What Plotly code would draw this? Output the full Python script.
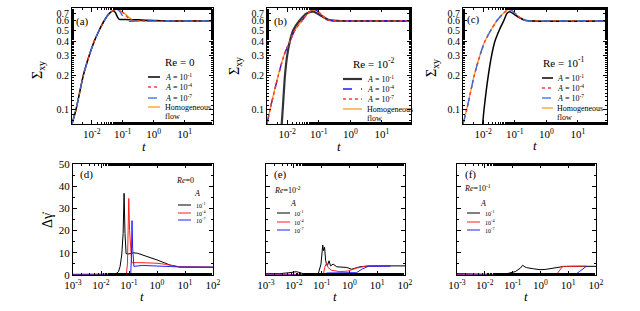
import plotly.graph_objects as go

# ---------------- data ----------------
# Panel (a)  Re = 0
a_black_t = [0.00229, 0.00308, 0.00532, 0.0083, 0.0121, 0.0175, 0.0249, 0.0369, 0.0498, 0.058, 0.068, 0.078, 0.12, 0.3, 1.0, 3.0, 80]
a_black_s = [0.075, 0.1, 0.2, 0.3, 0.4, 0.5, 0.6, 0.7, 0.738, 0.71, 0.65, 0.62, 0.618, 0.615, 0.605, 0.6, 0.6]
a_red_t = [0.00229, 0.00308, 0.00532, 0.0083, 0.0121, 0.0175, 0.0249, 0.0369, 0.05, 0.068, 0.09, 0.12, 0.16, 0.22, 0.4, 80]
a_red_s = [0.075, 0.1, 0.2, 0.3, 0.4, 0.5, 0.6, 0.7, 0.74, 0.765, 0.735, 0.68, 0.63, 0.605, 0.6, 0.6]
a_blue_t = [0.00229, 0.00308, 0.00532, 0.0083, 0.0121, 0.0175, 0.0249, 0.0369, 0.05, 0.064, 0.08, 0.1, 0.119, 0.16, 0.25, 1.0, 80]
a_blue_s = [0.075, 0.1, 0.2, 0.3, 0.4, 0.5, 0.6, 0.7, 0.74, 0.76, 0.73, 0.66, 0.61, 0.595, 0.598, 0.6, 0.6]
a_orange_t = [0.00229, 0.00308, 0.00532, 0.0083, 0.0121, 0.0175, 0.0249, 0.0369, 0.05, 0.068, 0.082, 0.12, 0.16, 0.196, 0.3, 80]
a_orange_s = [0.075, 0.1, 0.2, 0.3, 0.4, 0.5, 0.6, 0.7, 0.74, 0.765, 0.74, 0.69, 0.645, 0.62, 0.603, 0.6]

# Panel (b)  Re = 1e-2
b_black_t = [0.0067, 0.0072, 0.0085, 0.010, 0.0122, 0.0156, 0.024, 0.0413, 0.067, 0.138, 0.2, 0.37, 1.0, 80]
b_black_s = [0.075, 0.1, 0.2, 0.3, 0.4, 0.5, 0.6, 0.7, 0.724, 0.65, 0.615, 0.603, 0.6, 0.6]
b_thin_t = [0.00229, 0.00285, 0.00522, 0.0079, 0.0122, 0.0176, 0.0287, 0.0445, 0.057, 0.0703, 0.09, 0.123, 0.185, 0.29, 1.0, 80]
b_thin_s = [0.075, 0.1, 0.2, 0.3, 0.4, 0.5, 0.6, 0.7, 0.74, 0.757, 0.735, 0.677, 0.615, 0.602, 0.6, 0.6]

# Panel (c)  Re = 1e-1
c_black_t = [0.0096, 0.0106, 0.0145, 0.0185, 0.0236, 0.0324, 0.0443, 0.057, 0.070, 0.128, 0.21, 0.4, 80]
c_black_s = [0.075, 0.1, 0.2, 0.3, 0.4, 0.5, 0.6, 0.7, 0.724, 0.65, 0.61, 0.6, 0.6]
c_thin_t = [0.00229, 0.0030, 0.0052, 0.0079, 0.0114, 0.0176, 0.0267, 0.0432, 0.055, 0.067, 0.085, 0.115, 0.186, 0.3, 1.0, 80]
c_thin_s = [0.075, 0.1, 0.2, 0.3, 0.4, 0.5, 0.6, 0.7, 0.74, 0.757, 0.735, 0.677, 0.615, 0.6, 0.6, 0.6]

# Panel (d)  Re = 0, shear-rate difference
d_black_t = [0.001, 0.01, 0.028, 0.036, 0.042, 0.048, 0.055, 0.0616, 0.0667, 0.072, 0.0787, 0.1, 0.143, 0.2, 0.32, 0.5, 1.0, 2.9, 6.6, 100]
d_black_v = [0.3, 0.3, 0.4, 0.8, 1.5, 3.8, 9.0, 18.7, 36.8, 18.7, 9.6, 9.5, 10.0, 9.8, 9.0, 8.2, 6.8, 4.5, 3.6, 3.5]
d_red_t = [0.001, 0.08, 0.088, 0.093, 0.098, 0.105, 0.115, 0.125, 0.2, 0.5, 1.0, 2.0, 3.5, 6.5, 100]
d_red_v = [0.0, 0.0, 5.0, 20.0, 34.5, 20.0, 10.0, 5.5, 5.6, 5.6, 5.3, 4.8, 4.2, 3.6, 3.5]
d_blue_t = [0.001, 0.115, 0.122, 0.128, 0.135, 0.142, 0.15, 0.3, 1.0, 3.0, 6.5, 100]
d_blue_v = [0.0, 0.0, 8.0, 24.5, 12.0, 4.5, 3.9, 4.3, 4.2, 3.8, 3.6, 3.5]

# Panel (e)  Re = 1e-2
e_black_t = [0.001, 0.003, 0.0073, 0.0126, 0.022, 0.038, 0.076, 0.095, 0.11, 0.117, 0.128, 0.14, 0.16, 0.185, 0.21, 0.26, 0.35, 0.8, 1.2, 2.4, 5.5, 100]
e_black_v = [0.6, 0.6, 1.05, 1.5, 0.6, 0.3, 0.6, 4.9, 13.5, 11.0, 12.5, 6.4, 4.1, 6.4, 4.1, 4.9, 3.7, 3.4, 2.6, 3.7, 4.1, 4.1]
e_red_t = [0.001, 0.115, 0.13, 0.15, 0.17, 0.23, 0.46, 0.91, 1.8, 4.2, 30]
e_red_v = [0.3, 0.3, 3.4, 5.6, 3.4, 2.1, 1.5, 1.8, 3.1, 4.1, 4.1]
e_blue_t = [0.001, 0.14, 0.15, 0.5, 1.8, 2.8, 4.8, 30]
e_blue_v = [0.0, 0.0, 0.9, 1.0, 1.05, 2.6, 3.9, 4.0]

# Panel (f)  Re = 1e-1
f_black_t = [0.001, 0.005, 0.02, 0.062, 0.124, 0.19, 0.23, 0.28, 0.32, 0.56, 0.97, 1.5, 2.9, 6.6, 15, 100]
f_black_v = [0.6, 0.5, 0.3, 0.6, 1.5, 3.1, 4.4, 3.6, 3.3, 2.8, 2.4, 2.5, 3.0, 3.8, 3.9, 3.9]
f_red_t = [0.001, 3.8, 5.0, 6.3, 45]
f_red_v = [0.2, 0.2, 2.2, 3.9, 4.0]
f_blue_t = [0.001, 17.4, 25, 33, 45]
f_blue_v = [0.0, 0.0, 1.5, 2.5, 3.9]

top_xticks = [0.01, 0.1, 1, 10]
top_xtext = ["10<sup>-2</sup>", "10<sup>-1</sup>", "10<sup>0</sup>", "10<sup>1</sup>"]
top_yticks = [0.1, 0.2, 0.3, 0.4, 0.5, 0.6, 0.7]
top_ytext = ["0.1", "0.2", "0.3", "0.4", "0.5", "0.6", "0.7"]
bot_xticks = [0.001, 0.01, 0.1, 1, 10, 100]
bot_xtext = ["10<sup>-3</sup>", "10<sup>-2</sup>", "10<sup>-1</sup>", "10<sup>0</sup>", "10<sup>1</sup>", "10<sup>2</sup>"]
bot_yticks = [0, 10, 20, 30, 40, 50]

# ---------------- figure ----------------
W, H = 640, 311
def px(x):
    return x / W
def py(y):
    return 1 - y / H

FONT = "Liberation Serif, Times New Roman, Times, serif"
RED = "#ff3b3b"
BLUE = "#2f6fe8"
ORANGE = "#ff9a1f"

fig = go.Figure()

def add(t, v, color, width, dash, ax, shape="spline"):
    line = dict(color=color, width=width, dash=dash, shape=shape)
    if shape == "spline":
        line["smoothing"] = 0.6
    fig.add_trace(go.Scatter(x=t, y=v, mode="lines", xaxis="x" + ax, yaxis="y" + ax,
                             line=line, showlegend=False, hoverinfo="skip"))

# (a)
add(a_orange_t, a_orange_s, ORANGE, 1.3, "solid", "")
add(a_black_t, a_black_s, "black", 1.5, "solid", "")
add(a_red_t, a_red_s, RED, 1.3, "dot", "")
add(a_blue_t, a_blue_s, BLUE, 1.3, "dash", "")
# (b)
add(b_thin_t, b_thin_s, ORANGE, 1.3, "solid", "2")
add(b_black_t, b_black_s, "#333333", 2.2, "solid", "2")
add(b_thin_t, b_thin_s, "#1a1aff", 1.3, "dash", "2")
add(b_thin_t, b_thin_s, RED, 1.5, "dot", "2")
# (c)
add(c_thin_t, c_thin_s, ORANGE, 1.3, "solid", "3")
add(c_black_t, c_black_s, "black", 1.5, "solid", "3")
add(c_thin_t, c_thin_s, RED, 1.5, "dot", "3")
add(c_thin_t, c_thin_s, BLUE, 1.3, "dash", "3")
# (d)
add(d_black_t, d_black_v, "black", 1.0, "solid", "4", "linear")
add(d_red_t, d_red_v, "#ff2020", 1.0, "solid", "4", "linear")
add(d_blue_t, d_blue_v, "#2020ff", 1.0, "solid", "4", "linear")
# (e)
add(e_black_t, e_black_v, "black", 1.0, "solid", "5", "linear")
add(e_red_t, e_red_v, "#ff2020", 1.0, "solid", "5", "linear")
add(e_blue_t, e_blue_v, "#2020ff", 1.0, "solid", "5", "linear")
# (f)
add(f_black_t, f_black_v, "black", 1.0, "solid", "6", "linear")
add(f_red_t, f_red_v, "#ff2020", 1.0, "solid", "6", "linear")
add(f_blue_t, f_blue_v, "#2020ff", 1.0, "solid", "6", "linear")

common = dict(showline=True, linecolor="black", linewidth=1, mirror="allticks",
              ticks="inside", ticklen=4, tickcolor="black", showgrid=False,
              zeroline=False, automargin=False,
              tickfont=dict(family=FONT, size=11, color="black"))

xdoms = {"": (72, 213), "2": (267, 411), "3": (463, 607),
         "4": (73, 213), "5": (266, 405), "6": (457, 596)}
layout = {}
for ax, (x0, x1) in xdoms.items():
    top = ax in ("", "2", "3")
    xd = [px(x0), px(x1)]
    yd = [py(124), py(8)] if top else [py(275), py(164)]
    xa = dict(common, type="log", domain=xd, anchor="y" + ax,
              minor=dict(ticks="inside", ticklen=2, tickcolor="black", showgrid=False))
    if top:
        xa.update(range=[-2.64, 1.92], tickvals=top_xticks, ticktext=top_xtext)
        ya = dict(common, type="log", domain=yd, anchor="x" + ax,
                  range=[-1.125, -0.108], tickvals=top_yticks, ticktext=top_ytext,
                  minor=dict(ticks="inside", ticklen=2, tickcolor="black", showgrid=False))
        ya["tickfont"] = dict(family=FONT, size=10, color="black")
    else:
        xa.update(range=[-3, 2], tickvals=bot_xticks, ticktext=bot_xtext)
        ya = dict(common, type="linear", domain=yd, anchor="x" + ax,
                  range=[0, 50], tickvals=bot_yticks,
                  showticklabels=(ax == "4"),
                  minor=dict(ticks="inside", ticklen=2, tickcolor="black", dtick=5, showgrid=False))
    layout["xaxis" + ax] = xa
    layout["yaxis" + ax] = ya

ann = []
shapes = []
def text(x, y, s, size, xanchor="center", italic=False, angle=0):
    ann.append(dict(x=px(x), y=py(y), xref="paper", yref="paper", text=s, showarrow=False,
                    xanchor=xanchor, yanchor="middle", textangle=angle,
                    font=dict(family=FONT, size=size, color="black",
                              style="italic" if italic else "normal")))
def seg(x0, x1, y, color, width, dash):
    shapes.append(dict(type="line", xref="paper", yref="paper", x0=px(x0), x1=px(x1),
                       y0=py(y), y1=py(y), line=dict(color=color, width=width, dash=dash)))

# panel labels
text(82, 22, "(a)", 11); text(280, 22, "(b)", 11); text(473, 19, "(c)", 11)
text(86, 174, "(d)", 11); text(280, 174, "(e)", 11); text(470, 174, "(f)", 11)

# axis titles
for x, y in [(39, 70), (235, 66), (432, 68)]:
    text(x, y, "Σ<sub>xy</sub>", 14, angle=-90)
text(47, 220, "Δγ̇", 14, angle=-90)
for x, y in [(144, 146), (339, 146), (535, 145), (142, 296), (335, 296), (526, 296)]:
    text(x, y, "t", 13, italic=True)

# top legends
def top_legend(title_x, title_y, title, sx0, sx1, tx, rows, items):
    text(title_x, title_y, title, 11)
    for (lab, col, w, dash), ry in zip(items, rows):
        seg(sx0, sx1, ry, col, w, dash)
        text(tx, ry, lab, 8, xanchor="left")
    text(tx, rows[-1] + 9, "flow", 8, xanchor="left")

A1 = "<i>A</i> = 10<sup>-1</sup>"; A4 = "<i>A</i> = 10<sup>-4</sup>"; A7 = "<i>A</i> = 10<sup>-7</sup>"
top_legend(180, 62, "Re = 0", 148, 160, 163, [77, 87, 98, 107],
           [(A1, "black", 1.5, "solid"), (A4, RED, 1.3, "dot"), (A7, BLUE, 1.3, "dash"),
            ("Homogeneous", ORANGE, 1.3, "solid")])
top_legend(373, 63, "Re = 10<sup>-2</sup>", 343, 362, 365, [79, 89, 99, 109],
           [(A1, "#333333", 2.2, "solid"), (A4, "#1a1aff", 1.3, "dash"), (A7, RED, 1.5, "dot"),
            ("Homogeneous", ORANGE, 1.3, "solid")])
top_legend(563, 62, "Re = 10<sup>-1</sup>", 542, 553, 555, [78, 88, 98, 108],
           [(A1, "black", 1.5, "solid"), (A4, RED, 1.5, "dot"), (A7, BLUE, 1.3, "dash"),
            ("Homogeneous", ORANGE, 1.3, "solid")])

# bottom legends
def bot_legend(rx, ry, re, ax_, ay, sx0, sx1, tx, rows):
    text(rx, ry, re, 8)
    text(ax_, ay, "A", 8, italic=True)
    for (lab, col), r in zip([("10<sup>-1</sup>", "black"), ("10<sup>-4</sup>", "#ff2020"),
                              ("10<sup>-7</sup>", "#2020ff")], rows):
        seg(sx0, sx1, r, col, 1.0, "solid")
        text(tx, r, lab, 6, xanchor="left")

bot_legend(185, 180, "<i>Re</i>=0", 197, 193, 178, 191, 194, [205, 213, 220])
bot_legend(287, 190, "<i>Re</i>=10<sup>-2</sup>", 293, 203, 277, 290, 292, [213, 222, 230])
bot_legend(477, 188, "<i>Re</i>=10<sup>-1</sup>", 483, 203, 467, 480, 483, [213, 222, 230])

fig.update_layout(width=W, height=H, margin=dict(l=0, r=0, t=0, b=0, pad=0, autoexpand=False),
                  paper_bgcolor="white", plot_bgcolor="white", showlegend=False,
                  font=dict(family=FONT, size=11, color="black"),
                  annotations=ann, shapes=shapes, **layout)

fig.write_html("out.html", config={"displayModeBar": False, "staticPlot": True})

# remove the browser's default page margin so the figure sits at the window origin
with open("out.html", "r", encoding="utf-8") as fh:
    html = fh.read()
html = html.replace("<body>", '<body style="margin:0;padding:0;overflow:hidden">', 1)
html = html.replace("<head>", "<head><style>html,body{margin:0;padding:0;}</style>", 1)
with open("out.html", "w", encoding="utf-8") as fh:
    fh.write(html)
